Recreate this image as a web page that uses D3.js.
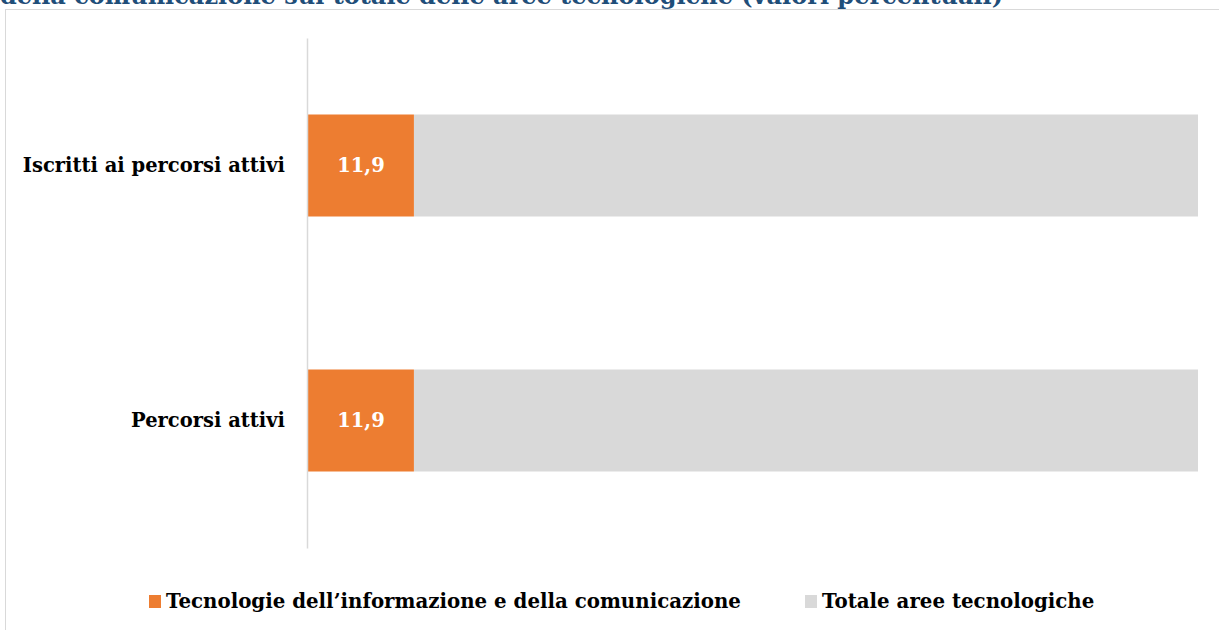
<!DOCTYPE html>
<html>
<head>
<meta charset="utf-8">
<script src="https://cdn.jsdelivr.net/npm/d3@7"></script>
<style>
  body { margin: 0; background: #fff; }
  svg text { font-family: "DejaVu Serif", "Liberation Serif", serif; font-weight: bold; }
</style>
</head>
<body>
<svg id="chart"></svg>
<script>
const W = 1219, H = 630;

// data
const categories = ["Iscritti ai percorsi attivi", "Percorsi attivi"];
const ictValues = [11.9, 11.9];
const totalValues = [100, 100];
const seriesNames = ["Tecnologie dell\u2019informazione e della comunicazione", "Totale aree tecnologiche"];
const titleText = "della comunicazione sul totale delle aree tecnologiche (valori percentuali)";

const svg = d3.select("#chart")
    .attr("width", W)
    .attr("height", H);

// colors
const orange = "#ed7d31";
const grey = "#d9d9d9";

// title (cut off by the top edge, as in the source)
svg.append("text")
    .attr("x", 0)
    .attr("y", 4)
    .attr("fill", "#1f4e79")
    .style("font-size", "24px")
    .text(titleText);

// chart box
svg.append("rect")
    .attr("x", 5.5)
    .attr("y", 9.5)
    .attr("width", W + 10)
    .attr("height", H + 10)
    .attr("fill", "none")
    .attr("stroke", "#d9d9d9");

// scales
const x = d3.scaleLinear().domain([0, 100]).range([308, 1198]);
const y = d3.scaleBand()
    .domain(categories)
    .range([38, 548])
    .paddingInner(0.6)
    .paddingOuter(0.3);

const rows = categories.map((c, i) => ({ cat: c, ict: ictValues[i], total: totalValues[i] }));

// grey part (rest of the total)
svg.append("g").selectAll("rect")
    .data(rows)
    .enter().append("rect")
    .attr("x", d => x(d.ict))
    .attr("y", d => y(d.cat))
    .attr("width", d => x(d.total) - x(d.ict))
    .attr("height", y.bandwidth())
    .attr("fill", grey);

// orange part
svg.append("g").selectAll("rect")
    .data(rows)
    .enter().append("rect")
    .attr("x", x(0))
    .attr("y", d => y(d.cat))
    .attr("width", d => x(d.ict) - x(0))
    .attr("height", y.bandwidth())
    .attr("fill", orange);

// value labels
svg.append("g").selectAll("text")
    .data(rows)
    .enter().append("text")
    .attr("x", d => (x(0) + x(d.ict)) / 2)
    .attr("y", d => y(d.cat) + y.bandwidth() / 2)
    .attr("dy", "0.35em")
    .attr("text-anchor", "middle")
    .attr("fill", "#fff")
    .style("font-size", "19.5px")
    .text(d => d3.format(".1f")(d.ict).replace(".", ","));

// y axis
const yAxis = svg.append("g")
    .attr("transform", `translate(${x(0) - 1},0)`)
    .call(d3.axisLeft(y).tickSize(0).tickPadding(22));
yAxis.select(".domain").attr("stroke", "#d9d9d9").attr("stroke-width", 1.5);
yAxis.selectAll("text")
    .attr("fill", "#000")
    .style("font-size", "19.5px")
    .style("font-family", "DejaVu Serif, serif")
    .style("font-weight", "bold");

// legend
const legend = svg.append("g");
const legendX = [149, 805];
[orange, grey].forEach((col, i) => {
    legend.append("rect")
        .attr("x", legendX[i])
        .attr("y", 595)
        .attr("width", 12)
        .attr("height", 13)
        .attr("fill", col);
    legend.append("text")
        .attr("x", legendX[i] + 17)
        .attr("y", 608)
        .attr("fill", "#000")
        .style("font-size", "19.8px")
        .text(seriesNames[i]);
});
</script>
</body>
</html>
